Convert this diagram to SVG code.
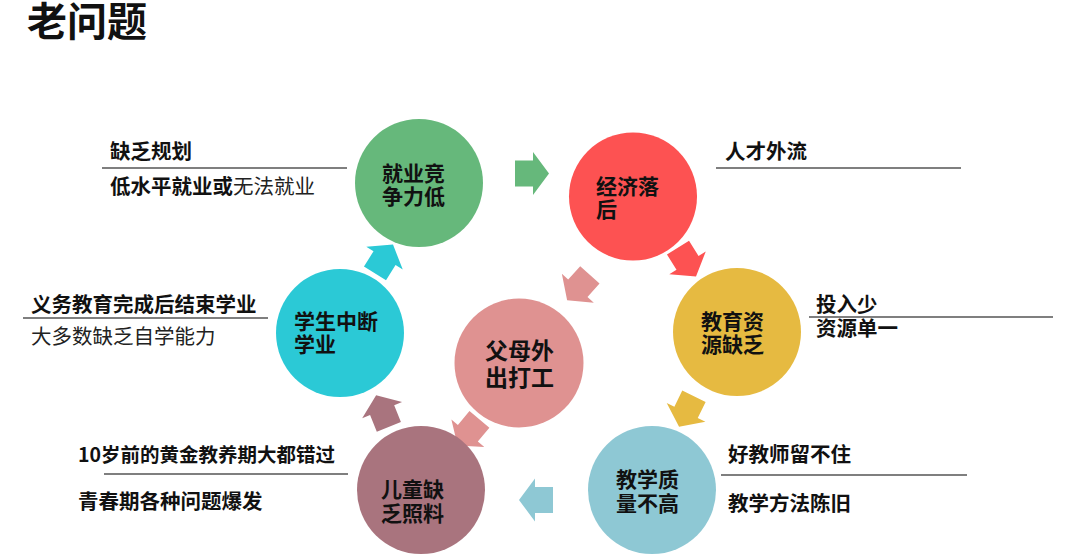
<svg xmlns="http://www.w3.org/2000/svg" width="1080" height="555" viewBox="0 0 1080 555">
<defs>
<style>
text{font-family:"Noto Sans CJK SC","Noto Sans",sans-serif;fill:#111;}
.title{font-size:40px;font-weight:700;}
.node{font-size:21px;font-weight:700;}
.side{font-size:20.5px;font-weight:700;}
.reg{font-weight:400;fill:#222;}
.rule{stroke:#555;stroke-width:1.5;fill:none;}
</style>
<path id="arr" d="M-17,-13 H1 V-21.5 L17,0 L1,21.5 V13 H-17 Z"/>
</defs>
<rect width="1080" height="555" fill="#fff"/>
<text class="title" x="27" y="35.5">老问题</text>

<g id="connectors">
<use href="#arr" fill="#66B87B" transform="translate(532,173.5)"/>
<use href="#arr" fill="#FD5252" transform="translate(687,262) rotate(58)"/>
<use href="#arr" fill="#DF9291" transform="translate(578.5,287.5) rotate(132)"/>
<use href="#arr" fill="#E6BA41" transform="translate(686.5,411.5) rotate(116)"/>
<use href="#arr" fill="#8EC8D4" transform="translate(536,500) rotate(180)"/>
<use href="#arr" fill="#DF9291" transform="translate(468.5,432.5) rotate(130)"/>
<use href="#arr" fill="#A9747E" transform="translate(382.5,411) rotate(-112)"/>
<use href="#arr" fill="#2BC9D6" transform="translate(384,259) rotate(-58)"/>
</g>

<g id="node-jiuye">
<circle cx="419" cy="183" r="64" fill="#66B87B"/>
<text class="node" x="382" y="180.5">就业竞</text>
<text class="node" x="382" y="203.5">争力低</text>
</g>
<g id="node-jingji">
<circle cx="633" cy="196.5" r="64" fill="#FD5252"/>
<text class="node" x="596" y="193.5">经济落</text>
<text class="node" x="596" y="216.5">后</text>
</g>
<g id="node-jiaoyu">
<circle cx="737" cy="332" r="64" fill="#E6BA41"/>
<text class="node" x="701" y="328.5">教育资</text>
<text class="node" x="701" y="351.5">源缺乏</text>
</g>
<g id="node-jiaoxue">
<circle cx="652" cy="490" r="64" fill="#8EC8D4"/>
<text class="node" x="616" y="486.5">教学质</text>
<text class="node" x="616" y="510.5">量不高</text>
</g>
<g id="node-ertong">
<circle cx="421" cy="490" r="64" fill="#A9747E"/>
<text class="node" x="381" y="496.5">儿童缺</text>
<text class="node" x="381" y="520.5">乏照料</text>
</g>
<g id="node-xuesheng">
<circle cx="340" cy="333" r="64" fill="#2BC9D6"/>
<text class="node" x="294" y="328.5">学生中断</text>
<text class="node" x="294" y="351.5">学业</text>
</g>
<g id="node-fumu">
<circle cx="519" cy="363" r="64.5" fill="#DF9291"/>
<text class="node" x="485" y="358.5" style="font-size:23px">父母外</text>
<text class="node" x="485" y="385.5" style="font-size:23px">出打工</text>
</g>

<g id="annotations">
<text class="side" x="110" y="158.5">缺乏规划</text>
<line class="rule" x1="102" y1="168" x2="347" y2="168"/>
<text class="side" x="110" y="193.5">低水平就业或<tspan class="reg">无法就业</tspan></text>

<text class="side" x="31" y="311.5">义务教育完成后结束学业</text>
<line class="rule" x1="23" y1="318" x2="268" y2="318"/>
<text class="side reg" x="31" y="343.5">大多数缺乏自学能力</text>

<text class="side" x="725" y="158.5">人才外流</text>
<line class="rule" x1="716" y1="168" x2="961" y2="168"/>

<text class="side" x="816" y="311.5">投入少</text>
<line class="rule" x1="809" y1="317" x2="1053" y2="317"/>
<text class="side" x="816" y="335.5">资源单一</text>

<text class="side" x="78" y="461.5" style="font-size:19.5px">10岁前的黄金教养期大都错过</text>
<line class="rule" x1="104" y1="474" x2="348" y2="474"/>
<text class="side" x="78" y="508.5">青春期各种问题爆发</text>

<text class="side" x="728" y="461.5">好教师留不住</text>
<line class="rule" x1="721" y1="475" x2="967" y2="475"/>
<text class="side" x="728" y="510.5">教学方法陈旧</text>
</g>
</svg>
